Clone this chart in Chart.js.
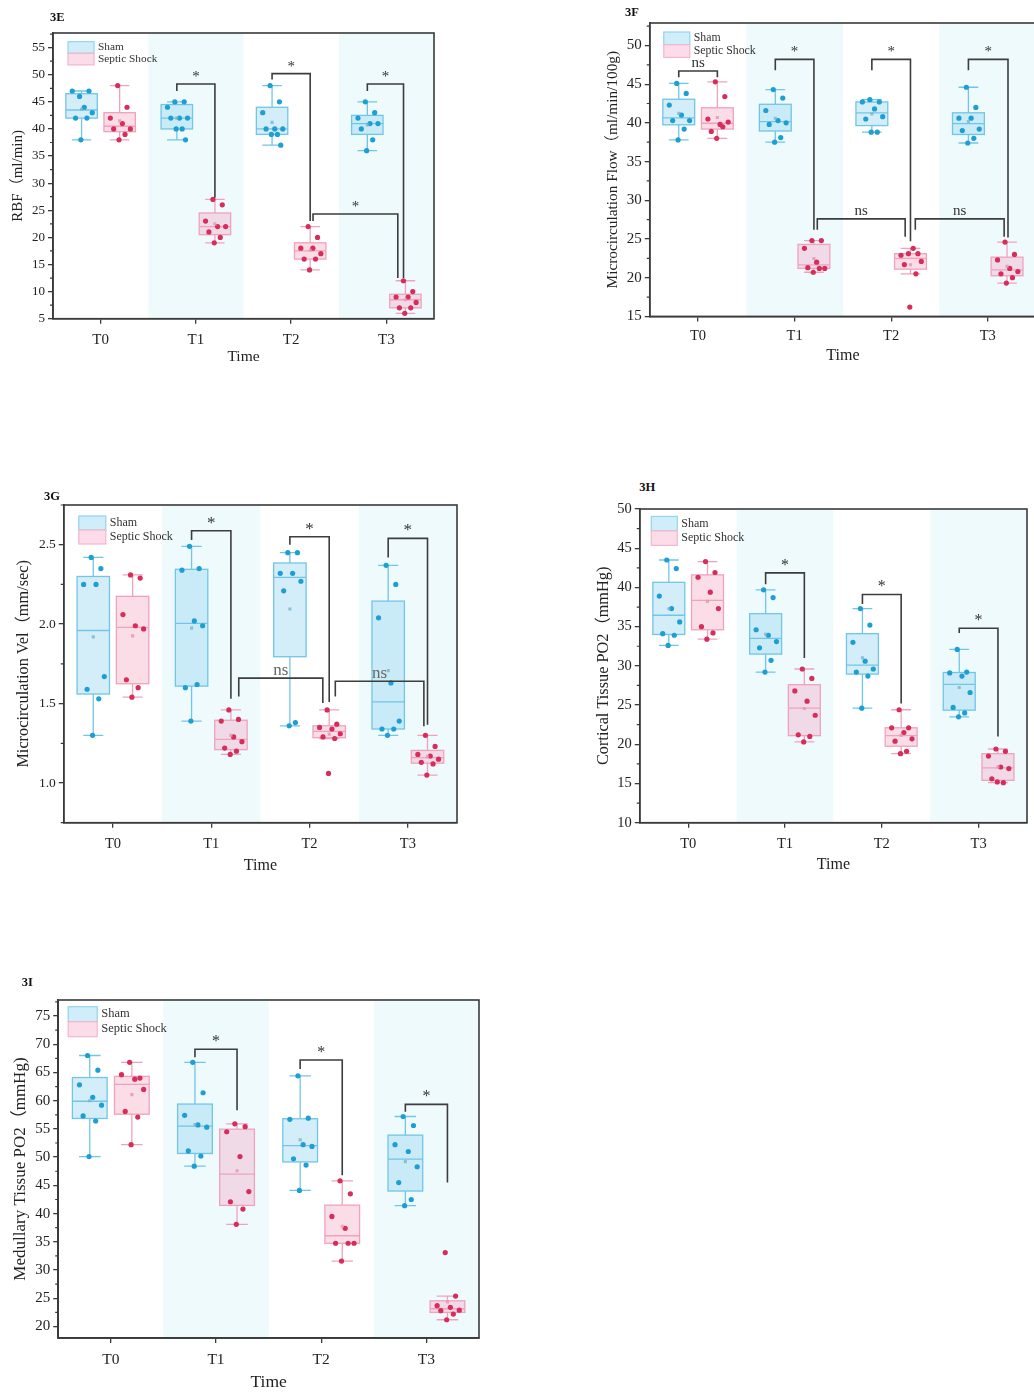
<!DOCTYPE html>
<html><head><meta charset="utf-8">
<script src="https://cdn.jsdelivr.net/npm/chart.js@4/dist/chart.umd.min.js"></script>
<style>
html,body{margin:0;padding:0;background:#fff;overflow:hidden;}
body{width:1034px;height:1393px;position:relative;}
.wrap{position:absolute;}
.plab{position:absolute;font-family:"Liberation Serif",serif;font-weight:bold;font-size:12.5px;line-height:1;color:#111;}
</style></head><body>
<script>
// ---------------- data ----------------
const timeLabels = ['T0','T1','T2','T3'];
const seriesNames = ['Sham','Septic Shock'];

// 3E  RBF (ml/min)
const rbfSham   = [[46,47,47,44,43,42,42,38],[45,45,44,42,42,42,40,40,38],[48,45,43,40,40,40,39,39,37],[45,43,42,41,41,40,38,36]];
const rbfSeptic = [[48,44,42,41,40,40,39,38],[27,26,23,22,22,21,20,19],[22,20,18,18,17,16,16,14],[12,10,9,9,8,7,7,6]];
const rbfSig = [
  {a:[1,0], b:[1,1], ya:47,   top:48.3, yb:27.3, text:'*'},
  {a:[2,0], b:[2,1], ya:49.1, top:50.2, yb:23,   text:'*'},
  {a:[2,1], b:[3,1], ya:23,   top:24.3, yb:12.5, text:'*', da:0.03, db:-0.08},
  {a:[3,0], b:[3,1], ya:47,   top:48.3, yb:12.5, text:'*', db:-0.02}
];

// 3F  Microcirculation Flow (ml/min/100g)
const flowSham   = [[45.1,43.8,42.3,41.0,40.3,40.3,39.2,37.8],[44.3,43.2,41.6,40.3,40.0,39.8,38.1,37.5],[43.0,42.7,42.7,41.8,40.8,40.5,38.8,38.8],[44.6,42.0,40.6,40.6,39.2,39.0,38.0,37.4]];
const flowSeptic = [[45.3,43.4,40.5,39.8,40.1,38.9,39.5,38.0],[24.8,24.8,23.8,22.0,21.2,21.3,21.2,20.7],[23.1,23.1,22.9,23.8,22.1,21.7,20.5,16.2],[24.6,23.0,22.3,21.2,20.8,20.5,20.0,19.3]];
const flowSig = [
  {a:[0,0], b:[0,1], ya:45.9, top:46.7, yb:45.9, text:'ns'},
  {a:[1,0], b:[1,1], ya:46.8, top:48.2, yb:26.2, text:'*'},
  {a:[2,0], b:[2,1], ya:46.8, top:48.2, yb:24.7, text:'*'},
  {a:[3,0], b:[3,1], ya:46.8, top:48.2, yb:25.2, text:'*', db:0.01},
  {a:[1,1], b:[2,1], ya:26.2, top:27.6, yb:25.3, text:'ns', da:0.035, db:-0.055},
  {a:[2,1], b:[3,1], ya:26.2, top:27.6, yb:25.3, text:'ns', da:0.05, db:-0.03}
];

// 3G  Microcirculation Vel (mm/sec)
const velSham   = [[2.42,2.35,2.25,2.25,1.67,1.59,1.53,1.30],[2.49,2.35,2.34,2.02,1.99,1.60,1.62,1.39],[2.45,2.45,2.32,2.32,2.27,2.21,1.38,1.36],[2.37,2.25,2.04,1.63,1.39,1.34,1.34,1.30]];
const velSeptic = [[2.31,2.29,2.06,1.99,1.97,1.65,1.60,1.54],[1.46,1.40,1.39,1.29,1.26,1.22,1.20,1.18],[1.46,1.37,1.35,1.34,1.31,1.29,1.28,1.06],[1.30,1.23,1.18,1.17,1.15,1.13,1.12,1.05]];
const velSig = [
  {a:[1,0], b:[1,1], ya:2.53, top:2.588, yb:1.53,  text:'*'},
  {a:[2,0], b:[2,1], ya:2.50, top:2.55,  yb:1.51,  text:'*'},
  {a:[3,0], b:[3,1], ya:2.42, top:2.54,  yb:1.367, text:'*'},
  {a:[1,1], b:[2,1], ya:1.545, top:1.66, yb:1.503, text:'ns', da:0.08, db:-0.065},
  {a:[2,1], b:[3,1], ya:1.545, top:1.64, yb:1.357, text:'ns', da:0.062, db:-0.037}
];

// 3H  Cortical Tissue PO2 (mmHg)
const corSham   = [[43.5,42.4,38.9,37.3,35.6,34.1,33.9,32.6],[39.7,38.7,34.6,33.9,33.1,32.3,30.7,29.2],[37.3,35.2,33.0,30.6,29.6,29.2,28.7,24.6],[32.1,29.2,29.1,28.7,26.6,24.7,24.0,23.5]];
const corSeptic = [[43.3,41.9,41.3,39.4,37.3,35.0,34.2,33.4],[29.6,28.4,26.8,25.5,23.7,21.2,21.0,20.3],[24.4,22.1,22.1,21.5,20.7,20.4,19.1,18.8],[19.4,19.1,18.5,17.1,16.9,15.6,15.1,15.2]];
const corSig = [
  {a:[1,0], b:[1,1], ya:40.4, top:41.85, yb:31.0, text:'*'},
  {a:[2,0], b:[2,1], ya:37.9, top:39.1,  yb:25.2, text:'*'},
  {a:[3,0], b:[3,1], ya:34.2, top:34.8,  yb:21.0, text:'*'}
];

// 3I  Medullary Tissue PO2 (mmHg)
const medSham   = [[68.0,65.4,62.8,60.6,59.2,57.3,56.4,50.1],[66.8,61.4,57.4,55.7,55.3,51.1,50.2,48.4],[64.4,56.9,56.7,52.2,51.9,49.7,48.6,44.1],[57.2,55.6,52.2,51.0,48.3,45.5,42.5,41.4]];
const medSeptic = [[66.8,64.0,64.6,63.8,62.0,58.1,57.1,52.2],[55.9,55.4,54.5,50.1,43.9,42.1,40.8,38.1],[45.8,43.5,39.5,37.4,34.75,34.75,34.75,31.6],[33.1,25.4,23.7,23.4,22.9,22.8,22.2,21.2]];
const medSig = [
  {a:[1,0], b:[1,1], ya:67.7,  top:69.1,  yb:58.3, text:'*'},
  {a:[2,0], b:[2,1], ya:65.6,  top:67.2,  yb:46.8, text:'*'},
  {a:[3,0], b:[3,1], ya:58.05, top:59.35, yb:45.5, text:'*'}
];

// ---------------- styles ----------------
const FONT = '"Liberation Serif", "Noto Sans CJK SC", serif';
const AXIS = '#3a3a3a';
const BAND = '#effafd';
const BANDED = [1,3];
const OFF = [-0.2, 0.2];
const BOXW = 0.33;
const JIT = [-0.15, 0.55, -0.7, 0.2, 0.8, -0.45, 0.4, -0.05, 0.65];
const STY = [
  {fill:'rgba(140,210,240,0.38)', line:'#72c5e6', pt:'#1e9fd4', mean:'rgba(120,175,200,0.75)', lfill:'#cfeefa', lline:'#93d3ee'},
  {fill:'rgba(245,160,190,0.36)', line:'#f0a2bd', pt:'#d62d5a', mean:'rgba(225,150,175,0.8)', lfill:'#fcdce8', lline:'#f4b6cb'}
];

const PANELS = [
  {lab:'3E', labPos:[50,10.5], sham:rbfSham, septic:rbfSeptic, sig:rbfSig, yTitle:'RBF（ml/min)',
   yMin:5, yMax:57.7, yStep:5, dec:0, area:{l:53,t:33,r:434,b:319},
   yTickF:13, xTickF:15, xTitleF:15.5, xTitleOff:38, yTitleF:15, yTitleOff:35, xTickPad:7,
   leg:{dx:15,dy:8.7,w:26,h:11.6,f:11.3}, sigF:15, nsF:15, nsColor:'#333'},
  {lab:'3F', labPos:[625,5.5], sham:flowSham, septic:flowSeptic, sig:flowSig, yTitle:'Microcirculation Flow（ml/min/100g)',
   yMin:15, yMax:52.9, yStep:5, dec:0, area:{l:649.3,t:23.3,r:1036,b:316.7},
   yTickF:15, xTickF:14.5, xTitleF:16, xTitleOff:39, yTitleF:15.3, yTitleOff:36.6, xTickPad:6,
   leg:{dx:14,dy:9,w:26,h:12.7,f:11.8}, sigF:15, nsF:15, nsColor:'#333'},
  {lab:'3G', labPos:[44,489.5], sham:velSham, septic:velSeptic, sig:velSig, yTitle:'Microcirculation Vel（mm/sec)',
   yMin:0.75, yMax:2.75, yStep:0.5, dec:1, area:{l:63.3,t:505,r:456.7,b:822.3},
   yTickF:13.5, xTickF:14.5, xTitleF:16, xTitleOff:42.7, yTitleF:16.3, yTitleOff:40, xTickPad:8,
   leg:{dx:15,dy:11,w:27,h:14,f:12}, sigF:17, nsF:17, nsColor:'#666'},
  {lab:'3H', labPos:[639.3,481], sham:corSham, septic:corSeptic, sig:corSig, yTitle:'Cortical Tissue PO2（mmHg)',
   yMin:10, yMax:50, yStep:5, dec:0, area:{l:639.3,t:509.3,r:1026.7,b:823.3},
   yTickF:14.5, xTickF:14.5, xTitleF:16, xTitleOff:41.7, yTitleF:16.3, yTitleOff:36, xTickPad:8,
   leg:{dx:11.5,dy:7.4,w:26,h:14.5,f:12}, sigF:16, nsF:16, nsColor:'#333'},
  {lab:'3I', labPos:[21.7,976], sham:medSham, septic:medSeptic, sig:medSig, yTitle:'Medullary Tissue PO2（mmHg)',
   yMin:17.95, yMax:77.83, yStep:5, dec:0, area:{l:58.3,t:1000,r:479.3,b:1338.3},
   yTickF:15, xTickF:15.5, xTitleF:17.5, xTitleOff:44.4, yTitleF:17, yTitleOff:38, xTickPad:7.5,
   leg:{dx:10,dy:6.7,w:29,h:15,f:12.5}, sigF:16, nsF:16, nsColor:'#333'}
];

// ---------------- helpers ----------------
function stats(vals){
  const s=[...vals].sort((a,b)=>a-b), n=s.length;
  const med=a=>{const m=a.length;return m%2?a[(m-1)/2]:(a[m/2-1]+a[m/2])/2;};
  const q1=med(s.slice(0,Math.floor(n/2))), q3=med(s.slice(Math.ceil(n/2)));
  const iqr=q3-q1;
  const inside=s.filter(v=>v>=q1-1.5*iqr && v<=q3+1.5*iqr);
  return {q1,q3,md:med(s),lo:Math.min(...inside),hi:Math.max(...inside),mean:s.reduce((a,b)=>a+b,0)/n};
}

function makePanel(p){
  const PT=14, PR=6;
  const yW = p.yTitleOff + p.yTitleF*1.2/2;
  const xH = p.xTitleOff + p.xTitleF*1.2/2;
  const cw = Math.round((p.area.r-p.area.l)+yW+PR);
  const ch = Math.round((p.area.b-p.area.t)+PT+xH);
  const wrap=document.createElement('div'); wrap.className='wrap';
  wrap.style.left=(p.area.l-yW)+'px'; wrap.style.top=(p.area.t-PT)+'px';
  wrap.style.width=cw+'px'; wrap.style.height=ch+'px';
  const cv=document.createElement('canvas'); cv.width=cw; cv.height=ch;
  cv.style.width=cw+'px'; cv.style.height=ch+'px';
  wrap.appendChild(cv); document.body.appendChild(wrap);
  const lab=document.createElement('div'); lab.className='plab'; lab.textContent=p.lab;
  lab.style.left=p.labPos[0]+'px'; lab.style.top=p.labPos[1]+'px'; document.body.appendChild(lab);

  const groups=[p.sham,p.septic];
  const st=groups.map(g=>g.map(stats));
  const datasets=[];
  groups.forEach((g,gi)=>{
    const pts=[];
    g.forEach((vals,t)=>vals.forEach((v,i)=>pts.push({x:t+OFF[gi]+JIT[i%JIT.length]*BOXW/2*0.85, y:v})));
    datasets.push({label:seriesNames[gi], data:pts, pointRadius:2.6, pointHoverRadius:2.6, pointBackgroundColor:STY[gi].pt, pointBorderWidth:0, showLine:false, order:2});
  });
  groups.forEach((g,gi)=>{
    datasets.push({label:seriesNames[gi]+' mean', data:st[gi].map((s,t)=>({x:t+OFF[gi], y:s.mean})), pointStyle:'rect', pointRadius:2.2, pointBackgroundColor:STY[gi].mean, pointBorderWidth:0, showLine:false, order:1});
  });

  const plugin={
    id:'boxplot'+p.lab,
    beforeDraw(chart){
      const {ctx, chartArea:a, scales:{x}}=chart;
      ctx.save(); ctx.fillStyle=BAND;
      BANDED.forEach(t=>{
        const x0=Math.max(a.left,x.getPixelForValue(t-0.5)), x1=Math.min(a.right,x.getPixelForValue(t+0.5));
        ctx.fillRect(x0,a.top,x1-x0,a.bottom-a.top);
      });
      ctx.restore();
    },
    beforeDatasetsDraw(chart){
      const {ctx, chartArea:a, scales:{x,y}}=chart;
      ctx.save();
      ctx.beginPath(); ctx.rect(a.left,a.top,a.right-a.left,a.bottom-a.top); ctx.clip();
      const hw=(x.getPixelForValue(BOXW/2)-x.getPixelForValue(0));
      st.forEach((gs,gi)=>gs.forEach((s,t)=>{
        const cx=x.getPixelForValue(t+OFF[gi]);
        const Y=v=>y.getPixelForValue(v);
        ctx.strokeStyle=STY[gi].line; ctx.lineWidth=1.3;
        ctx.beginPath();
        ctx.moveTo(cx,Y(s.hi)); ctx.lineTo(cx,Y(s.q3));
        ctx.moveTo(cx,Y(s.q1)); ctx.lineTo(cx,Y(s.lo));
        ctx.moveTo(cx-hw*0.62,Y(s.hi)); ctx.lineTo(cx+hw*0.62,Y(s.hi));
        ctx.moveTo(cx-hw*0.62,Y(s.lo)); ctx.lineTo(cx+hw*0.62,Y(s.lo));
        ctx.stroke();
        ctx.fillStyle=STY[gi].fill;
        ctx.fillRect(cx-hw,Y(s.q3),2*hw,Y(s.q1)-Y(s.q3));
        ctx.strokeRect(cx-hw,Y(s.q3),2*hw,Y(s.q1)-Y(s.q3));
        ctx.beginPath(); ctx.moveTo(cx-hw,Y(s.md)); ctx.lineTo(cx+hw,Y(s.md)); ctx.stroke();
      }));
      ctx.restore();
    },
    afterDraw(chart){
      const {ctx, chartArea:a, scales:{x,y}}=chart;
      ctx.save();
      // frame
      ctx.strokeStyle=AXIS; ctx.lineWidth=1.6;
      ctx.strokeRect(a.left,a.top,a.right-a.left,a.bottom-a.top);
      // minor y ticks
      ctx.lineWidth=1.2; ctx.beginPath();
      for(let v=Math.ceil(p.yMin/(p.yStep/2)-1e-9)*(p.yStep/2); v<=p.yMax+1e-9; v+=p.yStep/2){
        const k=Math.round(v/(p.yStep/2));
        if(k%2===1){const py=y.getPixelForValue(v); ctx.moveTo(a.left-3,py); ctx.lineTo(a.left,py);}
      }
      ctx.stroke();
      // significance brackets
      ctx.strokeStyle='#3d3d3d'; ctx.lineWidth=1.6;
      p.sig.forEach(s=>{
        const xa=x.getPixelForValue(s.a[0]+OFF[s.a[1]]+(s.da||0));
        const xb=x.getPixelForValue(s.b[0]+OFF[s.b[1]]+(s.db||0));
        const yt=y.getPixelForValue(s.top);
        ctx.beginPath();
        ctx.moveTo(xa,y.getPixelForValue(s.ya)); ctx.lineTo(xa,yt); ctx.lineTo(xb,yt); ctx.lineTo(xb,y.getPixelForValue(s.yb));
        ctx.stroke();
        const isNs=s.text==='ns';
        ctx.fillStyle=isNs?p.nsColor:'#333';
        ctx.font=(isNs?p.nsF:p.sigF)+'px '+FONT;
        ctx.textAlign='center'; ctx.textBaseline='alphabetic';
        ctx.fillText(s.text,(xa+xb)/2,yt-(isNs?3.5:3));
      });
      // legend
      const L=p.leg; const lx=a.left+L.dx, ly=a.top+L.dy;
      ctx.lineWidth=1.2;
      seriesNames.forEach((nm,gi)=>{
        ctx.fillStyle=STY[gi].lfill; ctx.strokeStyle=STY[gi].lline;
        ctx.fillRect(lx,ly+gi*L.h,L.w,L.h); ctx.strokeRect(lx,ly+gi*L.h,L.w,L.h);
        ctx.fillStyle='#333'; ctx.font=L.f+'px '+FONT; ctx.textAlign='left'; ctx.textBaseline='middle';
        ctx.fillText(nm,lx+L.w+4,ly+gi*L.h+L.h/2);
      });
      ctx.restore();
    }
  };

  const gridOpt={display:true, drawOnChartArea:false, drawTicks:true, tickLength:5, color:AXIS, lineWidth:1.3};
  new Chart(cv,{
    type:'scatter',
    data:{datasets},
    options:{
      responsive:false, animation:false, devicePixelRatio:1,
      layout:{padding:{top:PT,right:PR,left:0,bottom:0}},
      plugins:{legend:{display:false}, tooltip:{enabled:false}},
      scales:{
        x:{type:'linear', min:-0.5, max:3.5,
           afterBuildTicks:s=>{s.ticks=timeLabels.map((_,i)=>({value:i}));},
           afterFit:s=>{s.height=xH;},
           ticks:{callback:v=>timeLabels[v], color:'#222', font:{family:FONT,size:p.xTickF}, padding:p.xTickPad, maxRotation:0, autoSkip:false},
           grid:gridOpt, border:{display:true,color:AXIS,width:1.6},
           title:{display:true, text:'Time', color:'#222', font:{family:FONT,size:p.xTitleF,lineHeight:1.2}, padding:0}},
        y:{type:'linear', min:p.yMin, max:p.yMax,
           afterBuildTicks:s=>{const arr=[];for(let v=Math.ceil(p.yMin/p.yStep-1e-9)*p.yStep; v<=p.yMax+1e-9; v+=p.yStep) arr.push({value:+v.toFixed(4)}); s.ticks=arr;},
           afterFit:s=>{s.width=yW;},
           ticks:{callback:v=>Number(v).toFixed(p.dec), color:'#222', font:{family:FONT,size:p.yTickF}, padding:3},
           grid:gridOpt, border:{display:true,color:AXIS,width:1.6},
           title:{display:true, text:p.yTitle, color:'#222', font:{family:FONT,size:p.yTitleF,lineHeight:1.2}, padding:0}}
      }
    },
    plugins:[plugin]
  });
}
PANELS.forEach(makePanel);
</script>
</body></html>
